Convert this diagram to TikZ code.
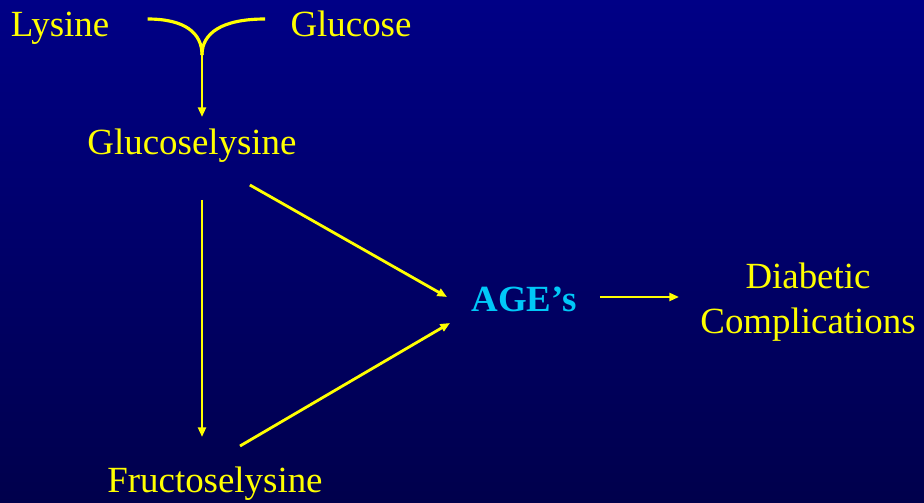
\documentclass[tikz,border=0pt]{standalone}
\usepackage{fontspec}
\setmainfont{Liberation Serif}
\usepackage{tikz}
\usetikzlibrary{positioning,arrows.meta,calc}
\definecolor{slideTop}{HTML}{000086}
\definecolor{slideBottom}{HTML}{00004C}
\definecolor{rxnYellow}{HTML}{FFFF00}
\definecolor{ageCyan}{HTML}{00C8F8}

\begin{document}
\begin{tikzpicture}[
    x=0.02cm, y=-0.02cm,
    lbl/.style={inner sep=0pt, text=rxnYellow, font=\fontsize{21}{25.5}\selectfont, align=center},
    arr/.style={-{Triangle[length=5.5pt, width=4.5pt]}, draw=rxnYellow, line width=1.6pt},
    fork/.style={draw=rxnYellow, line width=1.8pt},
]

% ===== Background =====
\shade[top color=slideTop, bottom color=slideBottom] (0,0) rectangle (924,503);
\useasboundingbox (0,0) rectangle (924,503);

% ===== Reactants =====
\node[lbl, anchor=base] (lys) at (60,37) {Lysine};
\node[lbl, anchor=base] (glc) at (351,37) {Glucose};

% ===== Intermediates =====
\node[lbl, anchor=base] (gly) at (192,155) {Glucoselysine};
\node[lbl, anchor=base] (fru) at (215,493) {Fructoselysine};

% ===== Products =====
\node[lbl, anchor=base, text=ageCyan, font=\fontsize{21}{25.5}\selectfont\bfseries] (age) at (524,312) {AGE’s};
\node[lbl] (dia) at (808,302) {Diabetic\\Complications};

% Fork joining the two reactants
\coordinate (join) at (202,55);
\draw[fork] ([shift={(38,-18)}]lys.base east) .. controls (185,19) and (202,33) .. (join);
\draw[fork] ([shift={(-25,-18)}]glc.base west) .. controls (222,19) and (202,33) .. (join);
\draw[arr] (join) -- ([shift={(10,-38)}]gly.base);

% Rearrangement
\draw[arr] ([shift={(10,45)}]gly.base) -- ([shift={(-13,-56)}]fru.base);

% Pathways into AGE's
\draw[arr] ([shift={(-47,30)}]gly.base east) -- ([shift={(-24,-15)}]age.base west);
\draw[arr] ([shift={(25,-47)}]fru.base) -- ([shift={(-21,11)}]age.base west);

% Outcome
\draw[arr] ([shift={(23,-15)}]age.base east) -- ([shift={(-21,-5)}]dia.west);

\end{tikzpicture}
\end{document}
